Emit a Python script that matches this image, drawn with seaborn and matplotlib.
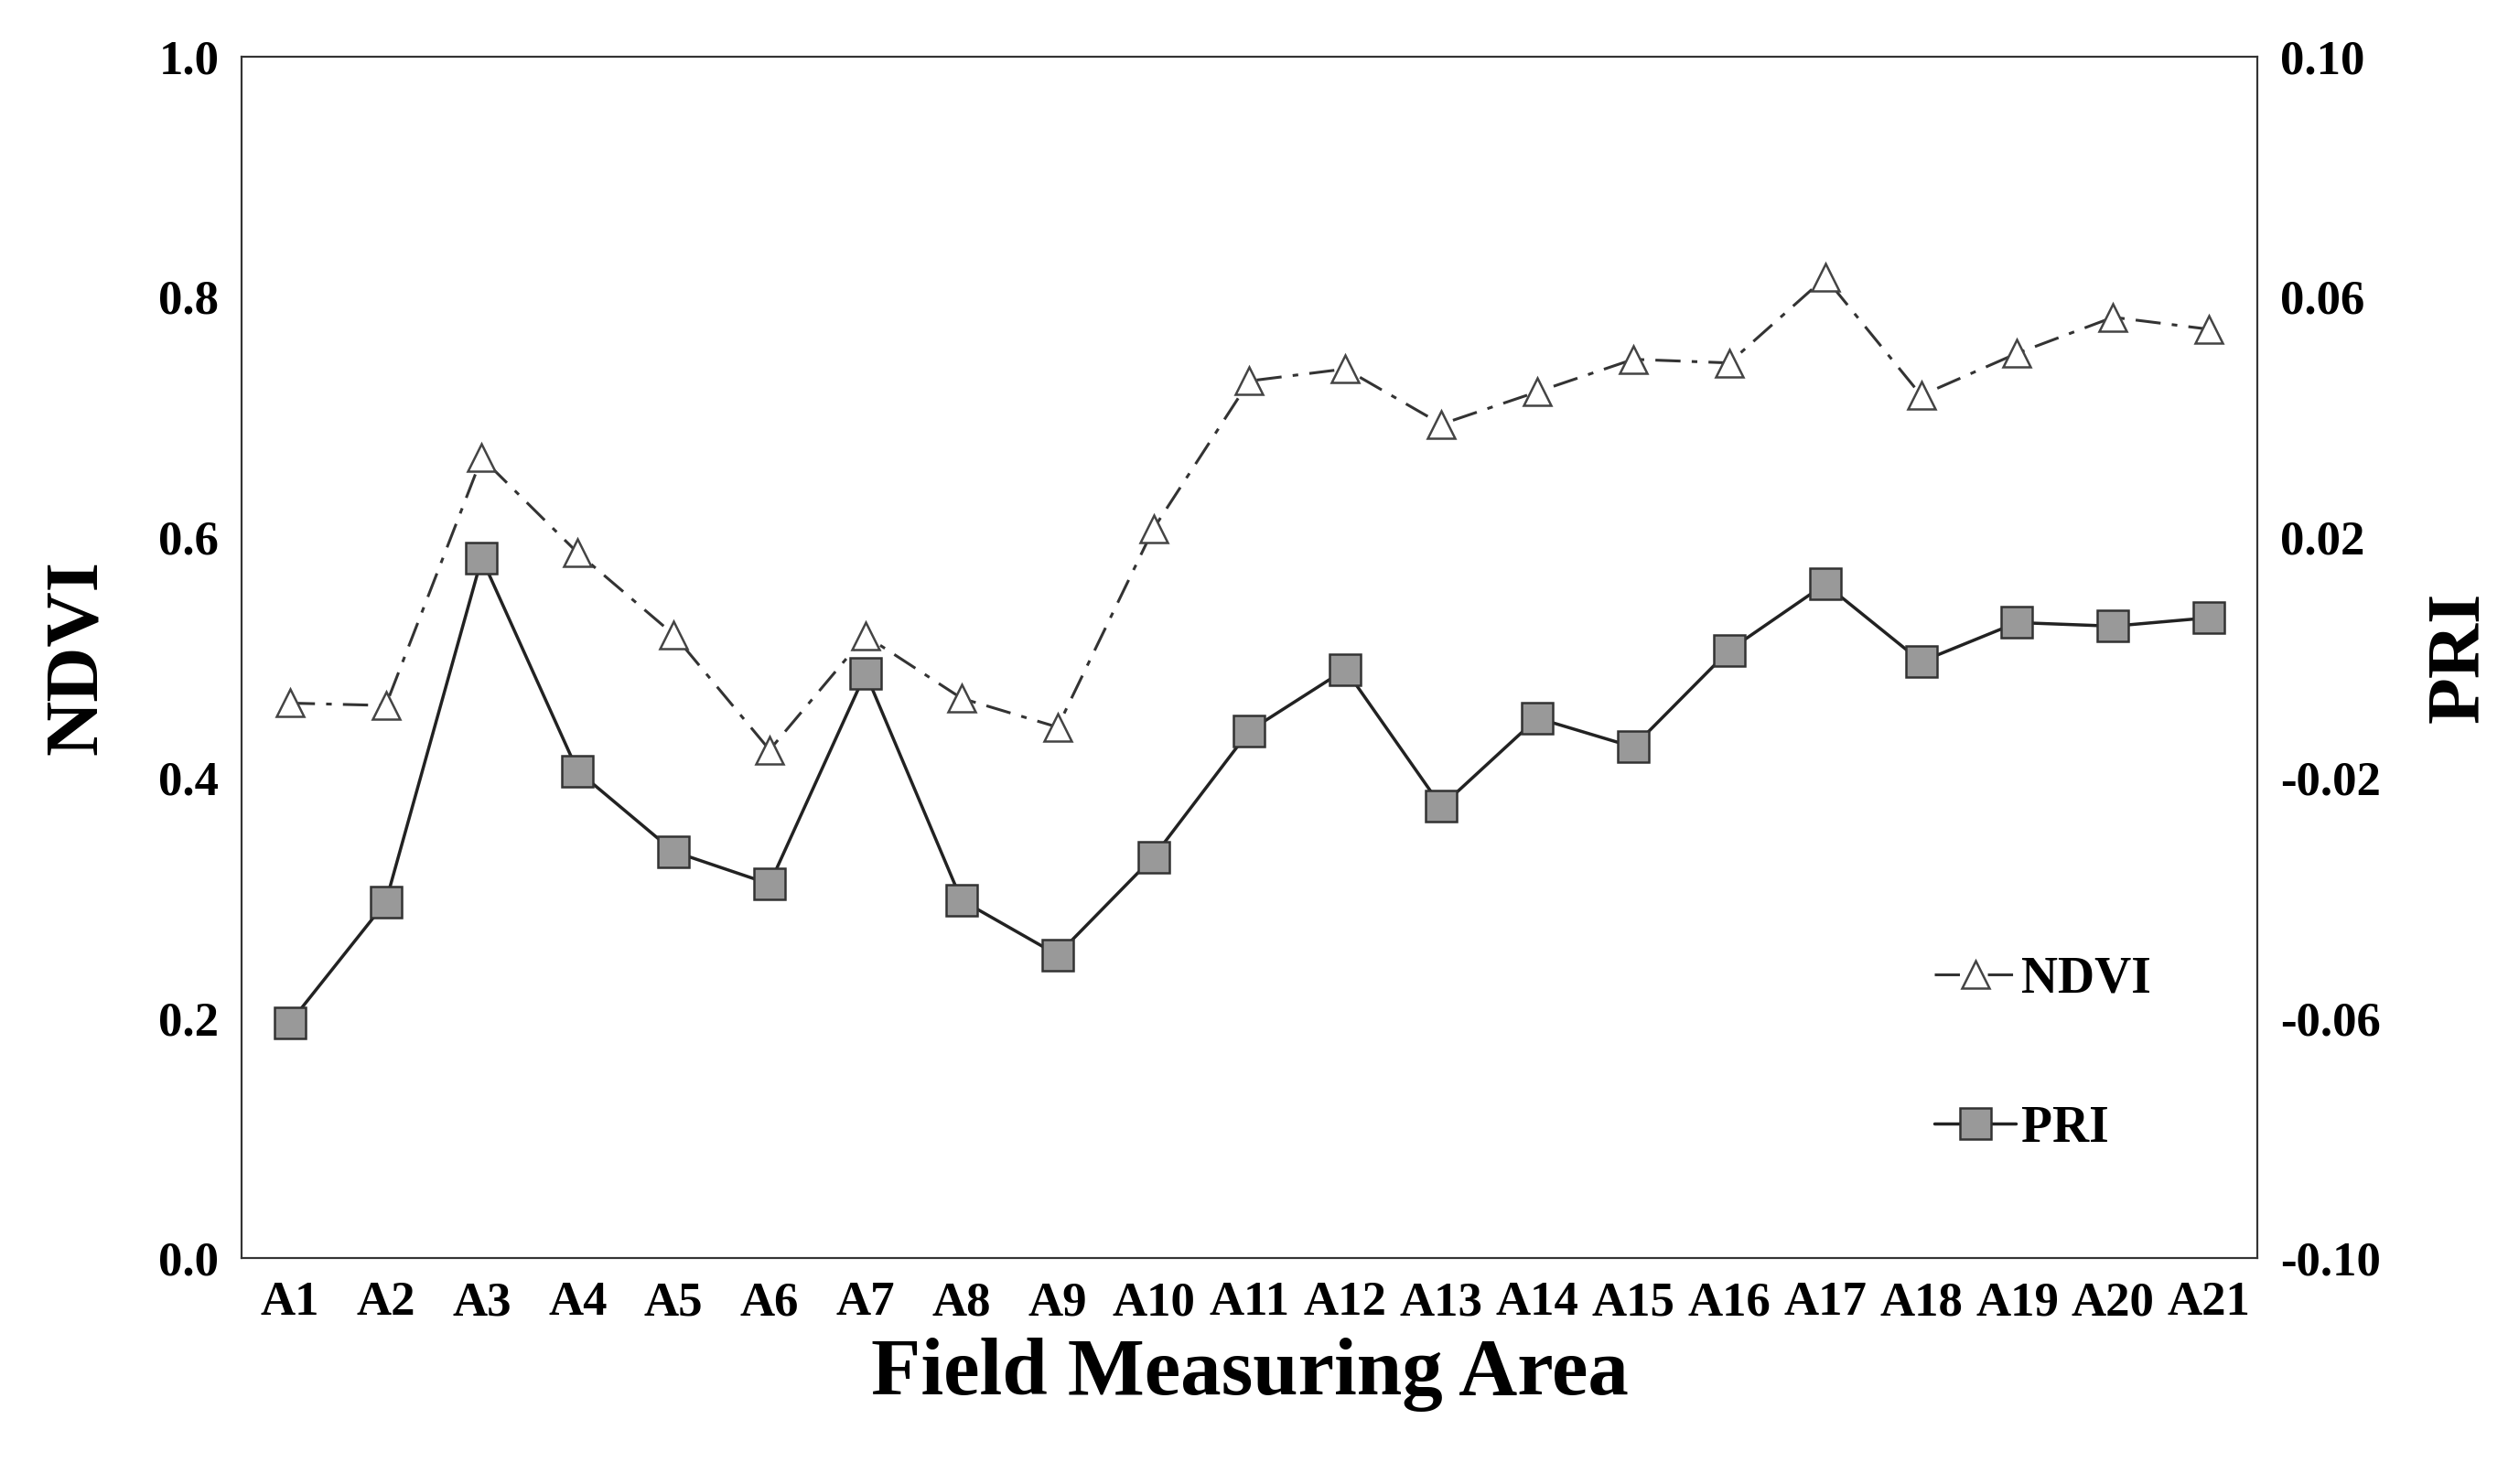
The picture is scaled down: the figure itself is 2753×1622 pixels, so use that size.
import numpy as np
import matplotlib.pyplot as plt
import seaborn as sns
import pandas as pd

#Data
areas = ["A%d" % i for i in range(1, 22)]
ndvi = [0.462, 0.460, 0.666, 0.587, 0.519, 0.423, 0.518, 0.466, 0.442, 0.607, 0.730,
        0.740, 0.694, 0.721, 0.748, 0.745, 0.816, 0.718, 0.753, 0.783, 0.773]
pri = [-0.0608, -0.0407, 0.0165, -0.0189, -0.0323, -0.0377, -0.0026, -0.0404, -0.0495, -0.0332, -0.0122,
       -0.0020, -0.0248, -0.0101, -0.0149, 0.0012, 0.0122, -0.0007, 0.0058, 0.0052, 0.0066]

df = pd.DataFrame({"area": areas, "x": np.arange(len(areas)), "NDVI": ndvi, "PRI": pri})

sns.set_style("white")
plt.rcParams["font.family"] = "Liberation Serif"
plt.rcParams["font.weight"] = "bold"
plt.rcParams["text.color"] = "black"

fig, ax = plt.subplots(figsize=(27.53, 16.22), dpi=100)
fig.subplots_adjust(left=0.096, right=0.896, top=0.962, bottom=0.152)
ax2 = ax.twinx()

sns.lineplot(data=df, x="x", y="NDVI", ax=ax, color="#333333", lw=2.2, dashes=False, linestyle=(0, (9, 4, 2, 4)),
             marker="^", markersize=22, markerfacecolor="white", markeredgecolor="#444444", markeredgewidth=1.8,
             label="NDVI", legend=False)
sns.lineplot(data=df, x="x", y="PRI", ax=ax2, color="#222222", lw=2.5,
             marker="s", markersize=24, markerfacecolor="#999999", markeredgecolor="#333333", markeredgewidth=1.8,
             label="PRI", legend=False)

ax.set_xlim(-0.5, len(areas) - 0.5)
ax.set_ylim(0, 1.0)
ax2.set_ylim(-0.10, 0.10)
ax.set_xticks(df["x"])
ax.set_xticklabels(areas)
ax.set_yticks(np.arange(0, 1.01, 0.2))
ax.set_yticklabels(["%.1f" % v for v in np.arange(0, 1.01, 0.2)])
ax2.set_yticks([-0.10, -0.06, -0.02, 0.02, 0.06, 0.10])
ax2.set_yticklabels(["-0.10", "-0.06", "-0.02", "0.02", "0.06", "0.10"])

for a in (ax, ax2):
    a.tick_params(labelsize=38, length=0, pad=18, labelcolor="black")
    for t in a.get_xticklabels() + a.get_yticklabels():
        t.set_fontweight("bold")
    for s in a.spines.values():
        s.set_color("#333333")
        s.set_linewidth(1.5)

ax.set_xlabel("Field Measuring Area", fontsize=64, fontweight="bold", labelpad=10, color="black")
ax.set_ylabel("NDVI", fontsize=60, fontweight="bold", labelpad=36, color="black")
ax2.set_ylabel("PRI", fontsize=60, fontweight="bold", labelpad=36, rotation=90, color="black")

h1, l1 = ax.get_legend_handles_labels()
h2, l2 = ax2.get_legend_handles_labels()
ax2.legend(h1 + h2, l1 + l2, loc="lower right", bbox_to_anchor=(0.97, 0.05), frameon=False,
           handlelength=1.6, handletextpad=0.1, labelspacing=2.0, prop={"weight": "bold", "size": 40})

fig.savefig("out.png", dpi=100)
